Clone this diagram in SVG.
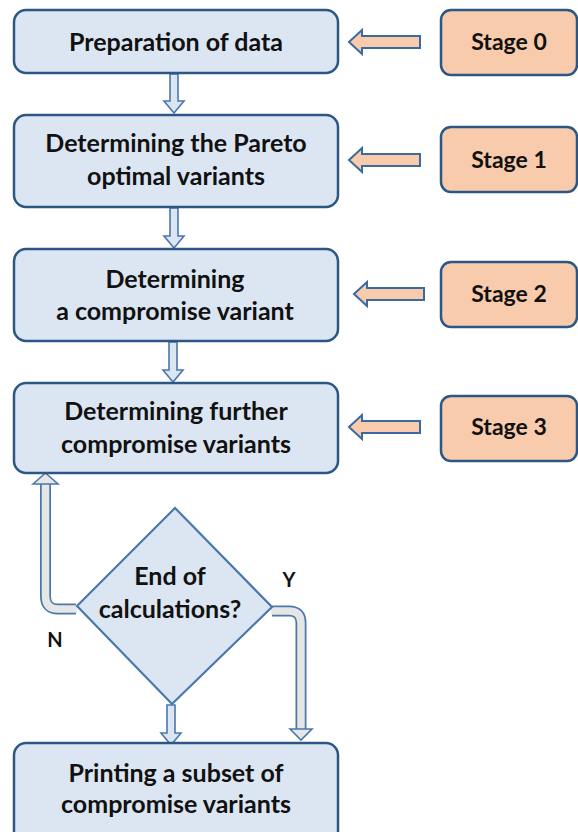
<svg xmlns="http://www.w3.org/2000/svg" width="578" height="832" viewBox="0 0 578 832">
<style>
.box{fill:#dce6f2;stroke:#2c5784;stroke-width:2.5}
.stage{fill:#f8cbad;stroke:#2c5784;stroke-width:2.5}
.t{font-family:Lato,"Liberation Sans",sans-serif;font-weight:bold;font-size:25px;fill:#111;text-anchor:middle}
.st{font-size:23px}
.down{fill:#dce6f2;stroke:#4a78ab;stroke-width:1.6;stroke-linejoin:miter}
.left{fill:#f8cbad;stroke:#3b6aa0;stroke-width:2}
.pipeo{fill:none;stroke:#4a78ab;stroke-width:11}
.pipei{fill:none;stroke:#e6e6e6;stroke-width:7.5}
.head{fill:#e6e6e6;stroke:#4a78ab;stroke-width:1.6}
</style>
<rect width="578" height="832" fill="#ffffff"/>
<g id="connectors">
  <polygon class="down" points="170,74 178,74 178,101 184,101 174,113 164,101 170,101"/>
  <polygon class="down" points="170,208 178,208 178,236 184,236 174,248 164,236 170,236"/>
  <polygon class="down" points="169,342 177,342 177,370 183,370 173,382 163,370 169,370"/>
  <polygon class="down" points="167,705 175,705 175,733 181,733 171,745 161,733 167,733"/>
  <polygon class="left" points="349,42 362,30 362,36 420,36 420,48 362,48 362,54"/>
  <polygon class="left" points="349,160 362,148 362,154 420,154 420,166 362,166 362,172"/>
  <polygon class="left" points="354,294 367,282 367,288 424,288 424,300 367,300 367,306"/>
  <polygon class="left" points="349,427 362,415 362,421 420,421 420,433 362,433 362,439"/>
  <path class="pipeo" d="M76 609 H58 Q45.5 609 45.5 596 V483"/>
  <path class="pipei" d="M77 609 H58 Q45.5 609 45.5 596 V482"/>
  <polygon class="head" points="33,484 45.5,473 58,484"/>
  <path class="pipeo" d="M272 611 H289 Q301 611 301 623 V729"/>
  <path class="pipei" d="M271 611 H289 Q301 611 301 623 V730"/>
  <polygon class="head" points="290,729 301,740 312,729"/>
</g>
<g id="n1"><rect class="box" x="14" y="10" width="324" height="63" rx="12"/><text class="t" x="176" y="51">Preparation of data</text></g>
<g id="n2"><rect class="box" x="14" y="115" width="324" height="92" rx="12"/><text class="t" x="176" y="152">Determining the Pareto</text><text class="t" x="176" y="185">optimal variants</text></g>
<g id="n3"><rect class="box" x="14" y="249" width="324" height="92" rx="12"/><text class="t" x="175" y="288">Determining</text><text class="t" x="175" y="320">a compromise variant</text></g>
<g id="n4"><rect class="box" x="14" y="383" width="324" height="90" rx="12"/><text class="t" x="176" y="420">Determining further</text><text class="t" x="176" y="453">compromise variants</text></g>
<g id="n5"><rect class="box" x="14" y="743" width="324" height="100" rx="12"/><text class="t" x="176" y="782">Printing a subset of</text><text class="t" x="176" y="813">compromise variants</text></g>
<g id="s0"><rect class="stage" x="441" y="10" width="136" height="65" rx="10"/><text class="t st" x="509" y="50">Stage 0</text></g>
<g id="s1"><rect class="stage" x="441" y="127" width="136" height="65" rx="10"/><text class="t st" x="509" y="168">Stage 1</text></g>
<g id="s2"><rect class="stage" x="441" y="262" width="136" height="65" rx="10"/><text class="t st" x="509" y="302">Stage 2</text></g>
<g id="s3"><rect class="stage" x="441" y="396" width="136" height="65" rx="10"/><text class="t st" x="509" y="435">Stage 3</text></g>
<g id="decision"><polygon points="175,508 272,607 172,704 77,606" fill="#dce6f2" stroke="#4a78ab" stroke-width="2.2"/><text class="t" x="170" y="585">End of</text><text class="t" x="170" y="618">calculations?</text></g>
<g id="labels"><text class="t" x="55" y="647" style="font-size:20px">N</text><text class="t" x="289" y="587" style="font-size:20px">Y</text></g>
</svg>
